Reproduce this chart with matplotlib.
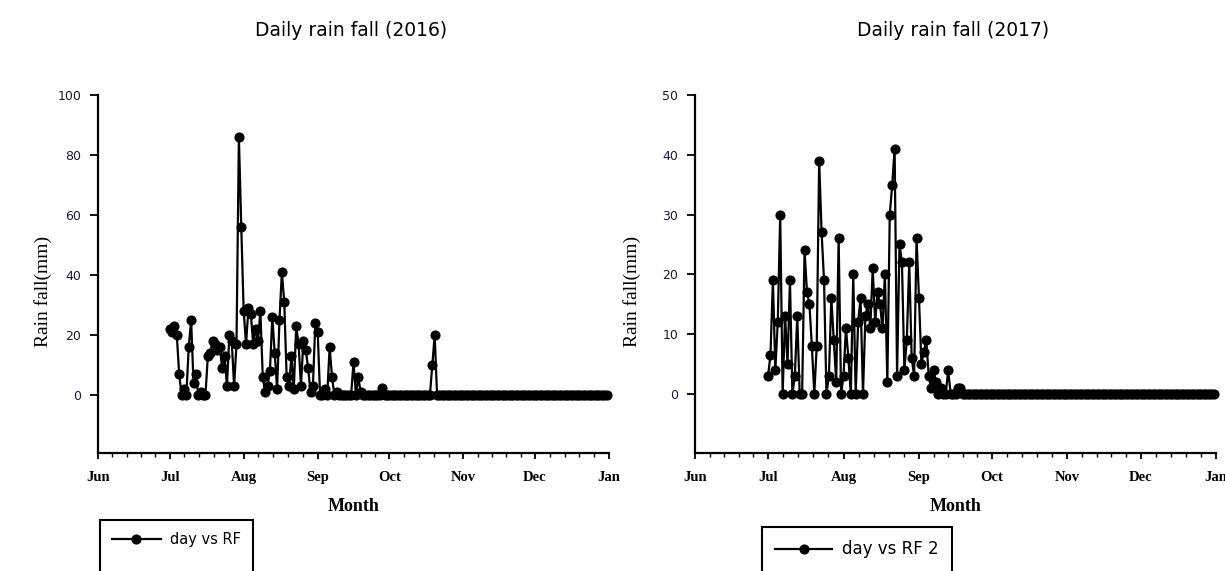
import matplotlib
matplotlib.use('Agg')
import matplotlib.pyplot as plt
from matplotlib.lines import Line2D
import numpy as np

# x axis: days counted from 1 June, month boundaries for the ticks
month_labels = ['Jun', 'Jul', 'Aug', 'Sep', 'Oct', 'Nov', 'Dec', 'Jan']
month_starts = [0, 30, 61, 92, 122, 153, 183, 214]
first_day = 30  # 1 July

# daily rain fall (mm), 1 Jul .. 31 Dec 2016
rain_2016 = [
    22, 21, 23, 20, 7, 0, 2, 0, 16, 25,
    4, 7, 0, 1, 0, 0, 13, 14, 18, 17,
    15, 16, 9, 13, 3, 20, 18, 3, 17, 86,
    56, 28, 17, 29, 27, 17, 22, 18, 28, 6,
    1, 3, 8, 26, 14, 2, 25, 41, 31, 6,
    3, 13, 2, 23, 17, 3, 18, 15, 9, 1,
    3, 24, 21, 0, 0, 2, 0, 16, 6, 0,
    1, 0, 0, 0, 0, 0, 0, 11, 0, 6,
    1, 0, 0, 0, 0, 0, 0, 0, 0, 2.5,
    0, 0, 0, 0, 0, 0, 0, 0, 0, 0,
    0, 0, 0, 0, 0, 0, 0, 0, 0, 0,
    10, 20, 0, 0, 0, 0, 0, 0, 0, 0,
    0, 0, 0, 0, 0, 0, 0, 0, 0, 0,
    0, 0, 0, 0, 0, 0, 0, 0, 0, 0,
    0, 0, 0, 0, 0, 0, 0, 0, 0, 0,
    0, 0, 0, 0, 0, 0, 0, 0, 0, 0,
    0, 0, 0, 0, 0, 0, 0, 0, 0, 0,
    0, 0, 0, 0, 0, 0, 0, 0, 0, 0,
    0, 0, 0, 0,
]

# daily rain fall (mm), 1 Jul .. 31 Dec 2017
rain_2017 = [
    3, 6.5, 19, 4, 12, 30, 0, 13, 5, 19,
    0, 3, 13, 0, 0, 24, 17, 15, 8, 0,
    8, 39, 27, 19, 0, 3, 16, 9, 2, 26,
    0, 3, 11, 6, 0, 20, 0, 12, 16, 0,
    13, 15, 11, 21, 12, 17, 15, 11, 20, 2,
    30, 35, 41, 3, 25, 22, 4, 9, 22, 6,
    3, 26, 16, 5, 7, 9, 3, 1, 4, 2,
    0, 1, 0, 0, 4, 0, 0, 0, 1, 1,
    0, 0, 0, 0, 0, 0, 0, 0, 0, 0,
    0, 0, 0, 0, 0, 0, 0, 0, 0, 0,
    0, 0, 0, 0, 0, 0, 0, 0, 0, 0,
    0, 0, 0, 0, 0, 0, 0, 0, 0, 0,
    0, 0, 0, 0, 0, 0, 0, 0, 0, 0,
    0, 0, 0, 0, 0, 0, 0, 0, 0, 0,
    0, 0, 0, 0, 0, 0, 0, 0, 0, 0,
    0, 0, 0, 0, 0, 0, 0, 0, 0, 0,
    0, 0, 0, 0, 0, 0, 0, 0, 0, 0,
    0, 0, 0, 0, 0, 0, 0, 0, 0, 0,
    0, 0, 0, 0,
]

SERIF = 'Liberation Serif'
SANS = 'DejaVu Sans'

W, H = 1225, 571
fig = plt.figure(figsize=(W / 100, H / 100), dpi=100)


def px_axes(x0, x1, y0, y1):
    # axes box given in picture pixels
    return fig.add_axes([x0 / W, 1 - y1 / H, (x1 - x0) / W, (y1 - y0) / H])


def rysuj(ax, rain, ylim, yticks, label, title, leg_xy, leg_size, ylab_x):
    days = np.arange(first_day, first_day + len(rain))
    ax.plot(days, rain, color='black', lw=1.6, marker='o', ms=6.5,
            markeredgewidth=0.8, label=label, clip_on=False)

    ax.set_xlim(month_starts[0], month_starts[-1])
    ax.set_ylim(*ylim)
    ax.set_xticks(month_starts)
    ax.set_xticklabels(month_labels, fontfamily=SERIF, fontweight='bold', fontsize=10.5)
    minor = []
    for a, b in zip(month_starts[:-1], month_starts[1:]):
        minor += list(np.linspace(a, b, 6)[1:-1])
    ax.set_xticks(minor, minor=True)
    ax.set_yticks(yticks)
    ax.set_yticklabels([str(t) for t in yticks], fontfamily=SANS, fontsize=9, color='#1a1a3a')

    for s in ['top', 'right']:
        ax.spines[s].set_visible(False)
    for s in ['left', 'bottom']:
        ax.spines[s].set_linewidth(1.6)
    ax.tick_params(axis='x', which='major', length=4, width=1.3, pad=9)
    ax.tick_params(axis='x', which='minor', length=3, width=1.0)
    ax.tick_params(axis='y', which='major', length=6, width=1.3, pad=6)

    ax.set_xlabel('Month', fontfamily=SERIF, fontweight='bold', fontsize=13, labelpad=10)
    ax.set_ylabel('Rain fall(mm)', fontfamily=SERIF, fontsize=14)
    ax.yaxis.set_label_coords(ylab_x, 0.45)

    pos = ax.get_position()
    fig.text((pos.x0 + pos.x1) / 2 - 0.002, 1 - 30 / H, title, ha='center', va='center',
             fontfamily=SANS, fontsize=13.5)

    # legend box runs off the bottom of the picture, as in the original
    blank = Line2D([], [], linestyle='none')
    h, l = ax.get_legend_handles_labels()
    leg = ax.legend(h + [blank], l + [' '], loc='upper left',
                    bbox_to_anchor=(leg_xy[0] / W, 1 - leg_xy[1] / H),
                    bbox_transform=fig.transFigure, fancybox=False,
                    edgecolor='black', framealpha=1, handlelength=3.4,
                    handletextpad=0.6, borderpad=0.8, borderaxespad=0,
                    labelspacing=1.2, prop={'family': SANS, 'size': leg_size})
    leg.get_frame().set_linewidth(1.5)


ax1 = px_axes(98, 609, 95, 453)
rysuj(ax1, rain_2016, (-19.3, 100), [0, 20, 40, 60, 80, 100], 'day vs RF',
      'Daily rain fall (2016)', (100, 520), 10.5, -0.09)

ax2 = px_axes(695, 1216, 95, 453)
rysuj(ax2, rain_2017, (-9.9, 50), [0, 10, 20, 30, 40, 50], 'day vs RF 2',
      'Daily rain fall (2017)', (762, 527), 12, -0.104)

fig.savefig('out.png', dpi=100)
